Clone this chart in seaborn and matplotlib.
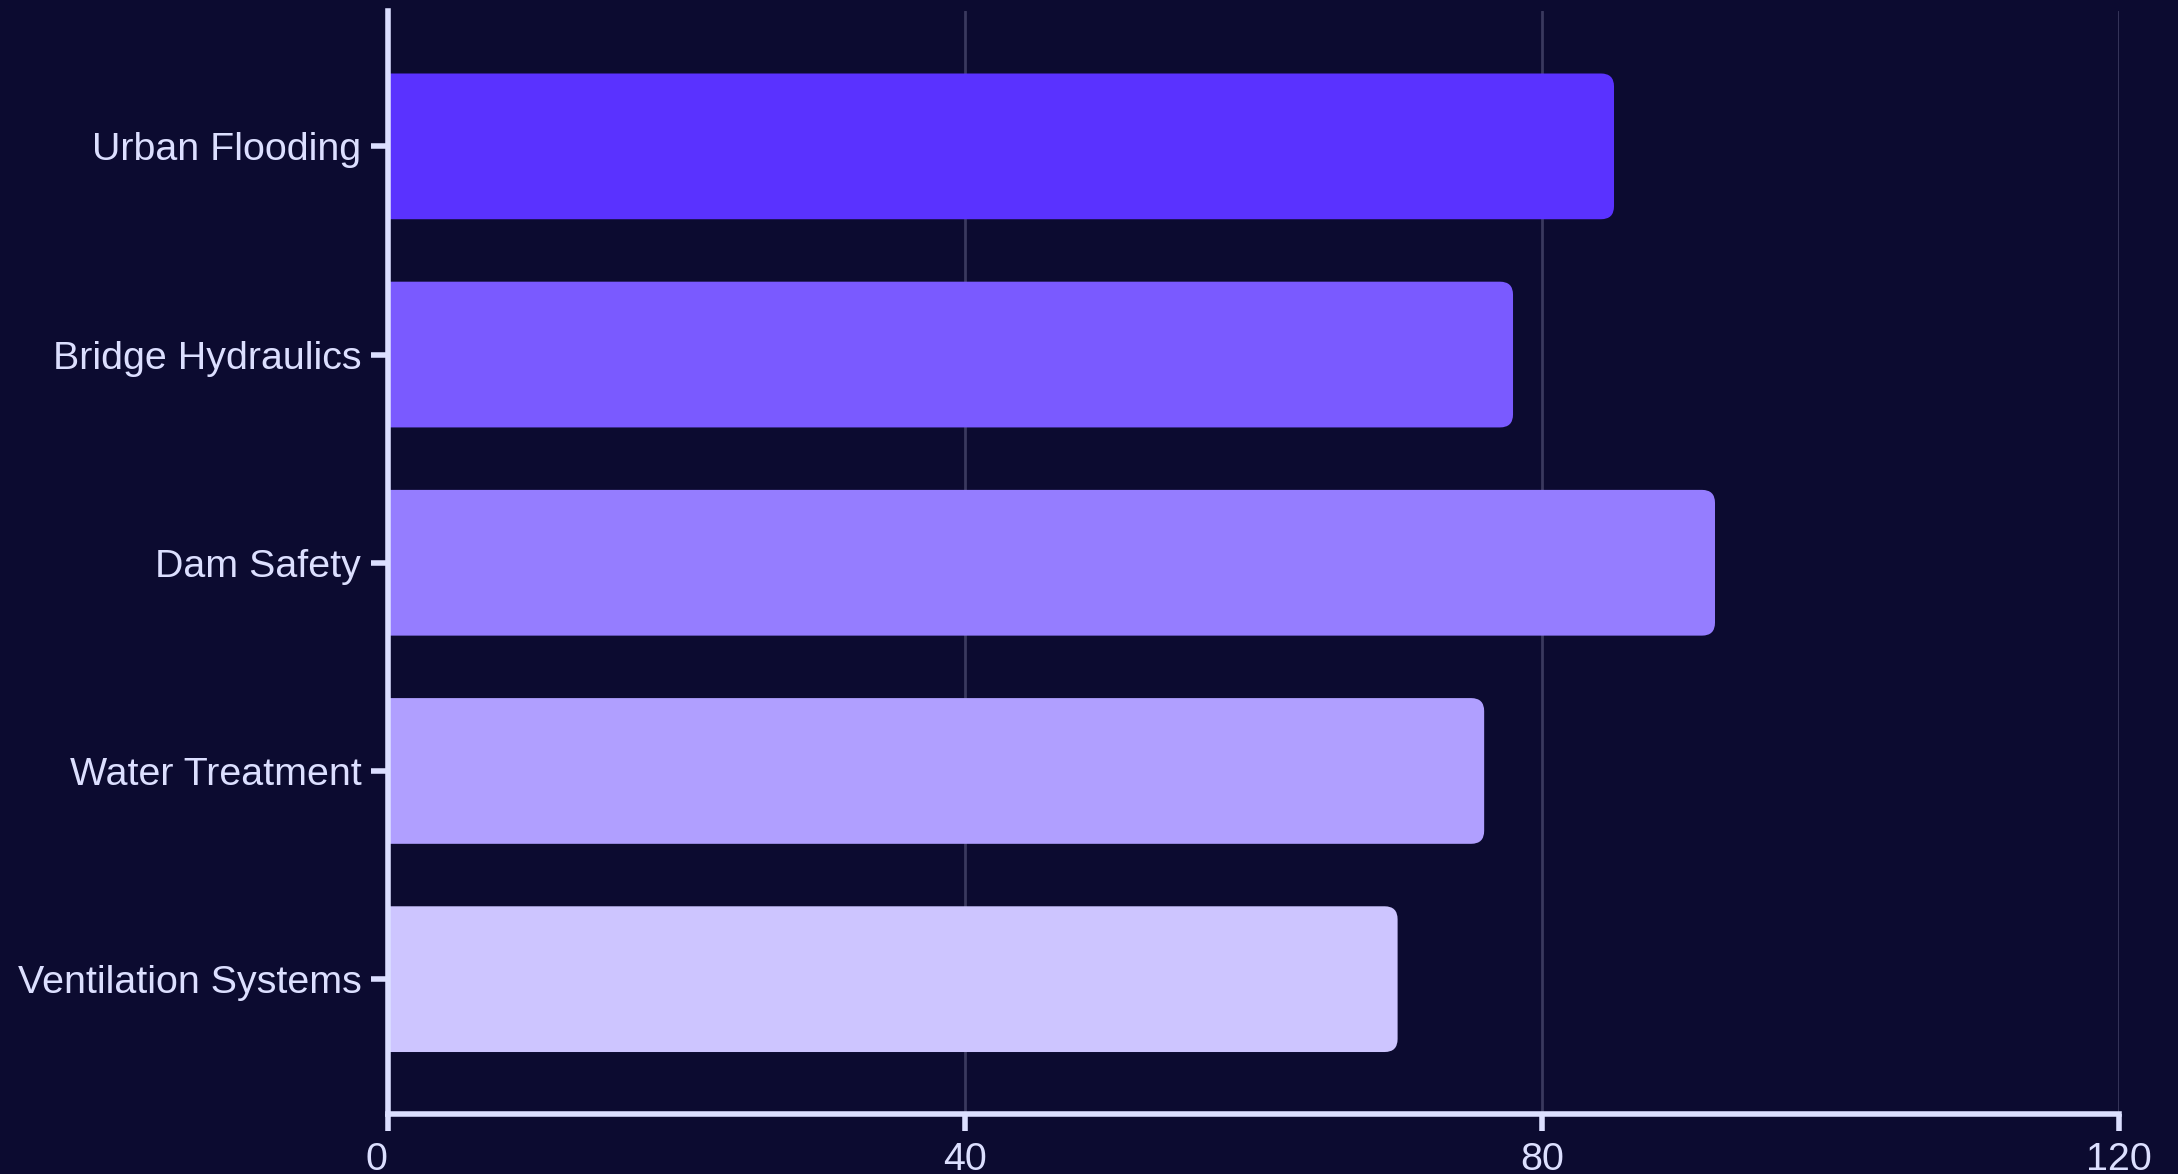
import matplotlib
matplotlib.use("Agg")
import matplotlib.pyplot as plt
import matplotlib.transforms as mtransforms
import seaborn as sns
from matplotlib.patches import FancyBboxPatch

categories = ["Urban Flooding", "Bridge Hydraulics", "Dam Safety", "Water Treatment", "Ventilation Systems"]
values = [85, 78, 92, 76, 70]
bar_colors = ["#5a32ff", "#7a5aff", "#957dff", "#b09fff", "#cdc5ff"]
x_ticks = [0, 40, 80, 120]

BG = "#0c0b30"
FG = "#dcdfff"
GRID = "#3a395e"


def main():
    sns.set_theme(style="white")
    plt.rcParams["font.family"] = ["Liberation Sans", "DejaVu Sans"]

    fig = plt.figure(figsize=(21.78, 11.74), dpi=100, facecolor=BG)
    ax = fig.add_axes([0.178, 0.0507, 0.9729 - 0.178, 0.9906 - 0.0507])
    ax.set_facecolor(BG)

    sns.barplot(
        x=values,
        y=categories,
        hue=categories,
        palette=bar_colors,
        saturation=1,
        legend=False,
        orient="h",
        width=0.7,
        ax=ax,
    )

    ax.set_xlim(0, 120)
    ax.set_ylim(4.65, -0.65)

    # swap the square bars for rounded ones
    bbox = ax.get_window_extent()
    px_x = bbox.width / 120
    px_y = bbox.height / 5.3
    radius_px = 13
    r = radius_px / px_x
    aspect = (radius_px / px_y) / r
    for patch in list(ax.patches):
        x0, y0 = patch.get_x(), patch.get_y()
        w, h = patch.get_width(), patch.get_height()
        rounded = FancyBboxPatch(
            (x0 - 2 * r, y0),
            w + 2 * r,
            h,
            boxstyle=f"round,pad=0,rounding_size={r}",
            mutation_aspect=aspect,
            facecolor=patch.get_facecolor(),
            edgecolor="none",
            zorder=2,
        )
        patch.remove()
        ax.add_patch(rounded)

    ax.set_xticks(x_ticks)
    ax.set_xticklabels([str(t) for t in x_ticks])
    ax.grid(axis="x", color=GRID, linewidth=2)
    ax.grid(axis="y", visible=False)
    ax.set_axisbelow(True)

    for side in ["top", "right"]:
        ax.spines[side].set_visible(False)
    for side in ["left", "bottom"]:
        ax.spines[side].set_color(FG)
        ax.spines[side].set_linewidth(4)
        ax.spines[side].set_zorder(3)

    ax.tick_params(axis="y", colors=FG, labelsize=28.4, length=12, width=4, pad=7, left=True)
    ax.tick_params(axis="x", colors=FG, labelsize=28.4, length=12, width=4, pad=8, bottom=True)
    ax.set_xlabel("")
    ax.set_ylabel("")

    # the "0" label sits a little left of its tick
    first = ax.get_xticklabels()[0]
    first.set_transform(first.get_transform() + mtransforms.ScaledTranslation(-0.11, 0, fig.dpi_scale_trans))

    fig.savefig("out.png", dpi=100, facecolor=BG)


if __name__ == "__main__":
    main()
